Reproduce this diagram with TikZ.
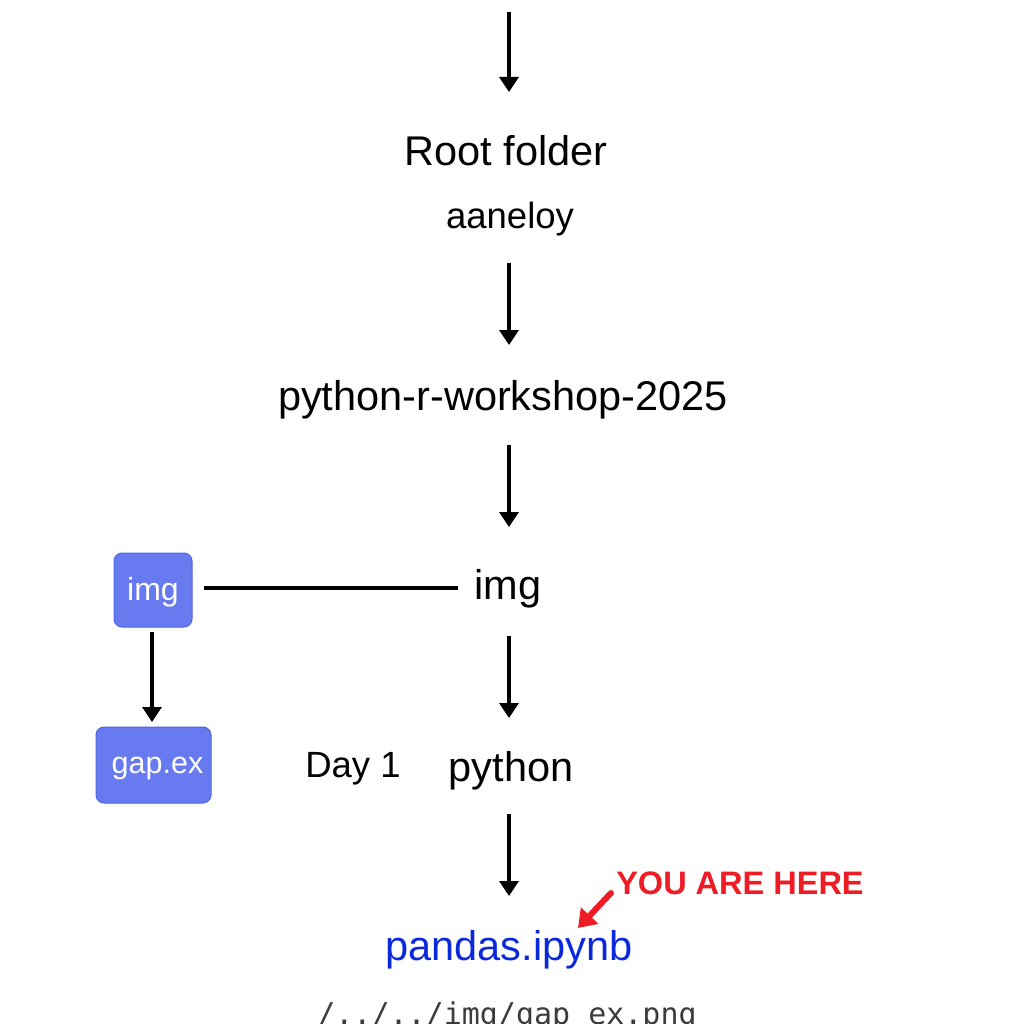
\documentclass[tikz,border=0pt]{standalone}
\usepackage{fontspec}
\setmainfont{Liberation Sans}
\setmonofont{DejaVu Sans Mono}
\usetikzlibrary{arrows.meta}
\definecolor{boxblue}{RGB}{104,122,240}
\definecolor{boxedge}{RGB}{80,100,230}
\definecolor{herered}{RGB}{238,28,37}
\definecolor{linkblue}{RGB}{10,40,220}
\definecolor{pathgray}{RGB}{60,60,60}
\tikzset{
  lbl/.style={inner sep=0pt, font=\fontsize{41.5}{48}\selectfont},
  smalllbl/.style={inner sep=0pt, font=\fontsize{36.5}{42}\selectfont},
  bluebox/.style={draw=boxedge, line width=1pt, fill=boxblue, rounded corners=8pt, inner sep=0pt},
  boxtext/.style={inner sep=0pt, text=white},
  conn/.style={line width=3.4pt, -{Triangle[length=15pt,width=19pt]}},
  plain/.style={line width=3.4pt},
}
\begin{document}
\begin{tikzpicture}[x=1pt,y=-1pt]
\useasboundingbox (0,0) rectangle (1024,1024);
\fill[white] (0,0) rectangle (1024,1024);
\coordinate (top) at (509,12);
\node[lbl] (root) at (506,151) {Root folder};
\node[smalllbl] (user) at (510,219) {aaneloy};
\node[lbl] (repo) at (503,400) {python-r-workshop-2025};
\node[lbl] (img) at (508,589) {img};
\node[lbl] (py) at (511,771) {python};
\node[smalllbl] (day) at (353,769) {Day 1};
\node[lbl, text=linkblue] (nb) at (509,950) {pandas.ipynb};
\node[inner sep=0pt, text=herered, font=\bfseries\fontsize{32.5}{38}\selectfont] (here) at (740,883) {YOU ARE HERE};
\node[inner sep=0pt, text=pathgray, font=\ttfamily\fontsize{30}{36}\selectfont] (path) at (507,1017) {/../../img/gap\_ex.png};
\node[bluebox, minimum width=78pt, minimum height=74pt] (imgbox) at (153,590) {};
\node[bluebox, minimum width=115pt, minimum height=76pt] (gapbox) at (153.5,765) {};
\node[boxtext, font=\fontsize{32}{36}\selectfont] (imgtxt) at (153,592) {img};
\node[boxtext, font=\fontsize{30.5}{36}\selectfont] (gaptxt) at (157.5,768) {gap.ex};
\coordinate (imgboxout) at (152,632);
\coordinate (gapboxin) at (152,722);
\coordinate (hstart) at (204,588);
\coordinate (hend) at (458,588);
\draw[conn] (top) -- (509,92);
\draw[conn] (509,263) -- (509,345);
\draw[conn] (509,445) -- (509,527);
\draw[conn] (509,636) -- (509,718);
\draw[conn] (509,814) -- (509,896);
\draw[plain] (hstart) -- (hend);
\draw[conn] (imgboxout) -- (gapboxin);
\draw[line width=6pt, herered, line cap=round, -{Triangle[length=17pt,width=23pt]}] (611,893) -- (578,928);
\end{tikzpicture}
\end{document}
